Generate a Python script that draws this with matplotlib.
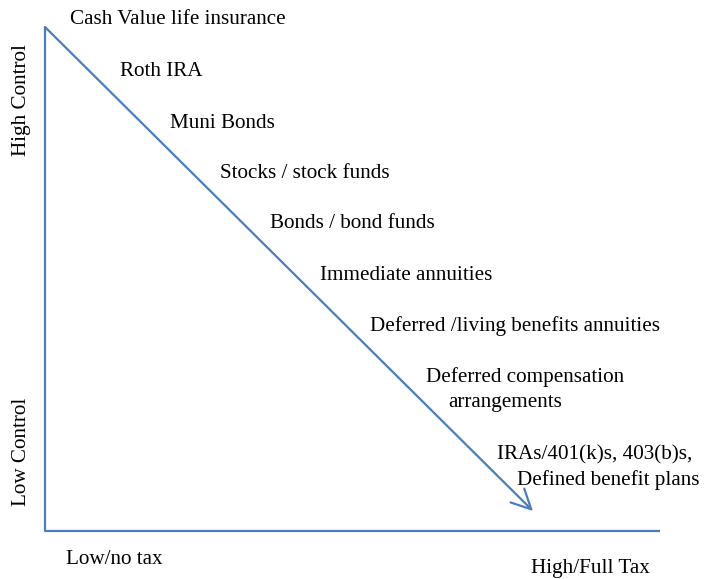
import matplotlib
matplotlib.use("Agg")
import matplotlib.pyplot as plt

# diagram in pixel units of the original picture (x right, y down)
items = ["Cash Value life insurance", "Roth IRA", "Muni Bonds",
         "Stocks / stock funds", "Bonds / bond funds", "Immediate annuities",
         "Deferred /living benefits annuities", "Deferred compensation",
         "arrangements", "IRAs/401(k)s, 403(b)s,", "Defined benefit plans"]
item_x = [70, 120, 170, 220, 270, 320, 370, 426, 448, 497, 517]
item_y = [20, 72, 123, 173, 224, 275, 326, 377, 403, 455, 480]

axis_x = [45, 45, 660]
axis_y = [27, 531, 531]
arrow_start = (45, 27)
arrow_end = (533, 511)

side_labels = ["High Control", "Low Control"]
side_y = [100, 452]
bottom_labels = ["Low/no tax", "High/Full Tax"]
bottom_x = [114, 590]
bottom_y = [560, 568]

col = "#4a7ebb"
fnt = "Liberation Serif"
fs = 15.2

fig = plt.figure(figsize=(7.16, 5.79), dpi=100)
ax = fig.add_axes([0, 0, 1, 1])
ax.set_xlim(0, 716)
ax.set_ylim(579, 0)
ax.axis("off")

ax.plot(axis_x, axis_y, color=col, lw=1.6, solid_capstyle="butt")
ax.annotate("", xy=arrow_end, xytext=arrow_start,
            arrowprops=dict(arrowstyle="->,head_length=1.4,head_width=0.7",
                            color=col, lw=1.6, shrinkA=0, shrinkB=0))

for t, x, y in zip(items, item_x, item_y):
    ax.text(x, y, t, ha="left", va="center", fontsize=fs, family=fnt)

for t, y in zip(side_labels, side_y):
    ax.text(22, y, t, ha="center", va="center", rotation=90, fontsize=fs, family=fnt)

for t, x, y in zip(bottom_labels, bottom_x, bottom_y):
    ax.text(x, y, t, ha="center", va="center", fontsize=fs, family=fnt)

fig.savefig("out.png", dpi=100)
